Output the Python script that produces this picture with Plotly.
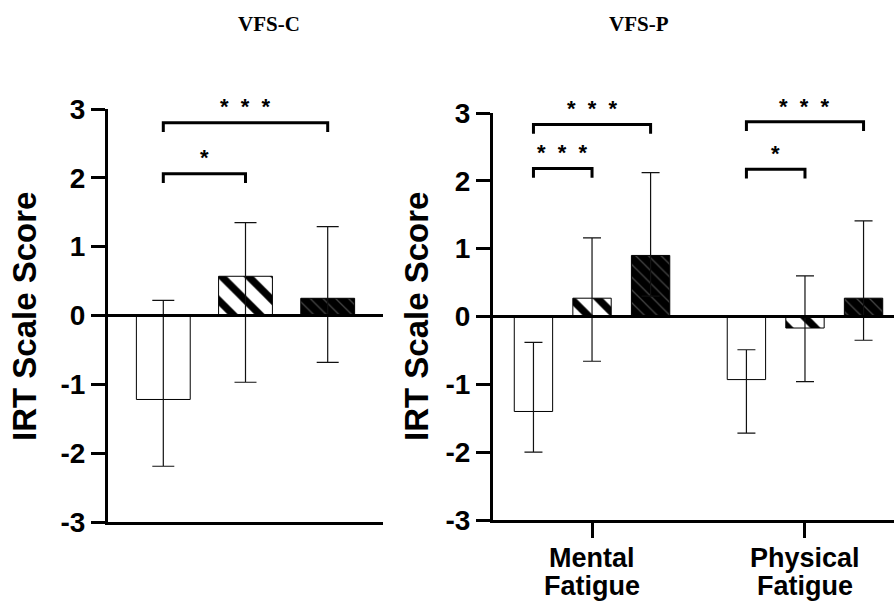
import plotly.graph_objects as go

# ---------------- data ----------------
panel_titles = ["VFS-C", "VFS-P"]
y_axis_title = "IRT Scale Score"
y_tick_values = [-3, -2, -1, 0, 1, 2, 3]
y_tick_labels = ["-3", "-2", "-1", "0", "1", "2", "3"]

series_names = ["Group 1", "Group 2", "Group 3"]

# Left panel (VFS-C): one group of three bars
left_category = ["VFS-C"]
left_means = [-1.22, 0.57, 0.25]
left_upper = [0.22, 1.35, 1.29]
left_lower = [-2.19, -0.97, -0.68]

# Right panel (VFS-P): two categories, three series
right_categories = ["Mental Fatigue", "Physical Fatigue"]
right_means = [[-1.40, -0.93], [0.27, -0.17], [0.90, 0.27]]
right_upper = [[-0.38, -0.49], [1.16, 0.60], [2.12, 1.41]]
right_lower = [[-2.00, -1.72], [-0.66, -0.96], [0.30, -0.35]]

# significance comparisons: (category index, series a, series b, bracket level, label)
STARS3 = "*\u00a0\u00a0*\u00a0\u00a0*"
left_comparisons = [(0, 0, 2, 2.80, STARS3), (0, 0, 1, 2.06, "*")]
right_comparisons = [
    (0, 0, 2, 2.83, STARS3),
    (0, 0, 1, 2.18, STARS3),
    (1, 0, 2, 2.87, STARS3),
    (1, 0, 1, 2.17, "*"),
]

# ---------------- styling ----------------
W, H = 894, 601
BARGAP = 0.175
BARGROUPGAP = 0.345
SANS = "Liberation Sans, Arial, sans-serif"
SERIF = "Liberation Serif, Times New Roman, serif"
YMIN, YMAX = -3, 3

series_markers = [
    dict(color="white", line=dict(color="black", width=1)),
    dict(color="white", line=dict(color="black", width=1),
         pattern=dict(shape="\\", bgcolor="white", fgcolor="black", fgopacity=1,
                      size=19, solidity=0.38)),
    dict(color="black", line=dict(color="black", width=1),
         pattern=dict(shape="\\", bgcolor="black", fgcolor="#454545", fgopacity=1,
                      size=9, solidity=0.14)),
]
ERR_COLOR = "#111111"

fig = go.Figure()

for i in range(3):
    fig.add_trace(go.Bar(
        x=left_category, y=[left_means[i]], name=series_names[i],
        xaxis="x", yaxis="y", marker=series_markers[i], showlegend=False,
        error_y=dict(type="data", symmetric=False,
                     array=[left_upper[i] - left_means[i]],
                     arrayminus=[left_means[i] - left_lower[i]],
                     color=ERR_COLOR, thickness=1.2, width=11),
    ))
for i in range(3):
    fig.add_trace(go.Bar(
        x=right_categories, y=right_means[i], name=series_names[i],
        xaxis="x2", yaxis="y2", marker=series_markers[i], showlegend=False,
        error_y=dict(type="data", symmetric=False,
                     array=[u - m for u, m in zip(right_upper[i], right_means[i])],
                     arrayminus=[m - l for m, l in zip(right_means[i], right_lower[i])],
                     color=ERR_COLOR, thickness=1.2, width=9),
    ))

slot = (1 - BARGAP) / 3
shapes = []
annotations = []


def to_domain(v):
    return (v - YMIN) / (YMAX - YMIN)


def add_brackets(comps, xref, yref):
    for cat, a, b, level, label in comps:
        xa = cat + (a - 1) * slot
        xb = cat + (b - 1) * slot
        drop = 0.135
        shapes.append(dict(
            type="path", xref=xref, yref=yref,
            path=f"M {xa},{level - drop} L {xa},{level} L {xb},{level} L {xb},{level - drop}",
            line=dict(color="black", width=3),
        ))
        annotations.append(dict(
            x=(xa + xb) / 2, y=to_domain(level + 0.32), xref=xref, yref=yref + " domain",
            text=label, showarrow=False, yanchor="middle", yshift=-6,
            font=dict(family=SANS, size=22, color="black", weight="bold"),
        ))


add_brackets(left_comparisons, "x", "y")
add_brackets(right_comparisons, "x2", "y2")

# zero lines drawn above bars
for xr, yr in [("x domain", "y"), ("x2 domain", "y2")]:
    shapes.append(dict(type="line", xref=xr, yref=yr, x0=0, x1=1, y0=0, y1=0,
                       line=dict(color="black", width=3), layer="above"))

# category labels of right panel (two lines each)
for cat in right_categories:
    for k, word in enumerate(cat.split(" ")):
        annotations.append(dict(
            x=cat, y=1 - (558 + 28 * k) / H, xref="x2", yref="paper", text=word,
            showarrow=False, xanchor="center", yanchor="middle",
            font=dict(family=SANS, size=27, color="black", weight="bold"),
        ))

# panel titles
for txt, px in zip(panel_titles, [269, 639]):
    annotations.append(dict(
        x=px / W, y=1 - 24 / H, xref="paper", yref="paper", text=txt, showarrow=False,
        xanchor="center", yanchor="middle",
        font=dict(family=SERIF, size=21, color="black", weight="bold"),
    ))

# y axis titles
for px, py in [(24, 317), (416, 317)]:
    annotations.append(dict(
        x=px / W, y=1 - py / H, xref="paper", yref="paper", text=y_axis_title,
        showarrow=False, textangle=-90, xanchor="center", yanchor="middle",
        font=dict(family=SANS, size=33, color="black", weight="bold"),
    ))

yaxis_common = dict(
    range=[YMIN, YMAX], tickmode="array", tickvals=y_tick_values, ticktext=y_tick_labels,
    ticks="outside", ticklen=14, tickwidth=3, tickcolor="black",
    showline=True, linewidth=3, linecolor="black", showgrid=False, zeroline=False,
    tickfont=dict(family=SANS, size=28, color="black", weight="bold"),
    automargin=False,
)

fig.update_layout(
    width=W, height=H,
    margin=dict(l=0, r=0, t=0, b=0),
    paper_bgcolor="white", plot_bgcolor="white",
    barmode="group", bargap=BARGAP, bargroupgap=BARGROUPGAP,
    showlegend=False,
    xaxis=dict(domain=[108 / W, 383 / W], anchor="y", type="category",
               range=[-0.46, 0.46], showline=True, linewidth=3, linecolor="black",
               showticklabels=False, ticks="", showgrid=False, zeroline=False,
               automargin=False),
    yaxis=dict(domain=[1 - 522 / H, 1 - 109 / H], anchor="x", **yaxis_common),
    xaxis2=dict(domain=[493 / W, 1.0], anchor="y2", type="category",
                range=[-0.465, 1.418], showline=True, linewidth=3, linecolor="black",
                tickmode="array", tickvals=right_categories, showticklabels=False,
                ticks="outside", ticklen=15, tickwidth=3, tickcolor="black",
                showgrid=False, zeroline=False, automargin=False),
    yaxis2=dict(domain=[1 - 520 / H, 1 - 113 / H], anchor="x2", **yaxis_common),
    shapes=shapes,
    annotations=annotations,
)

fig.write_html(
    "out.html",
    config={"displayModeBar": False},
    post_script="document.body.style.margin='0';document.body.style.overflow='hidden';",
)
